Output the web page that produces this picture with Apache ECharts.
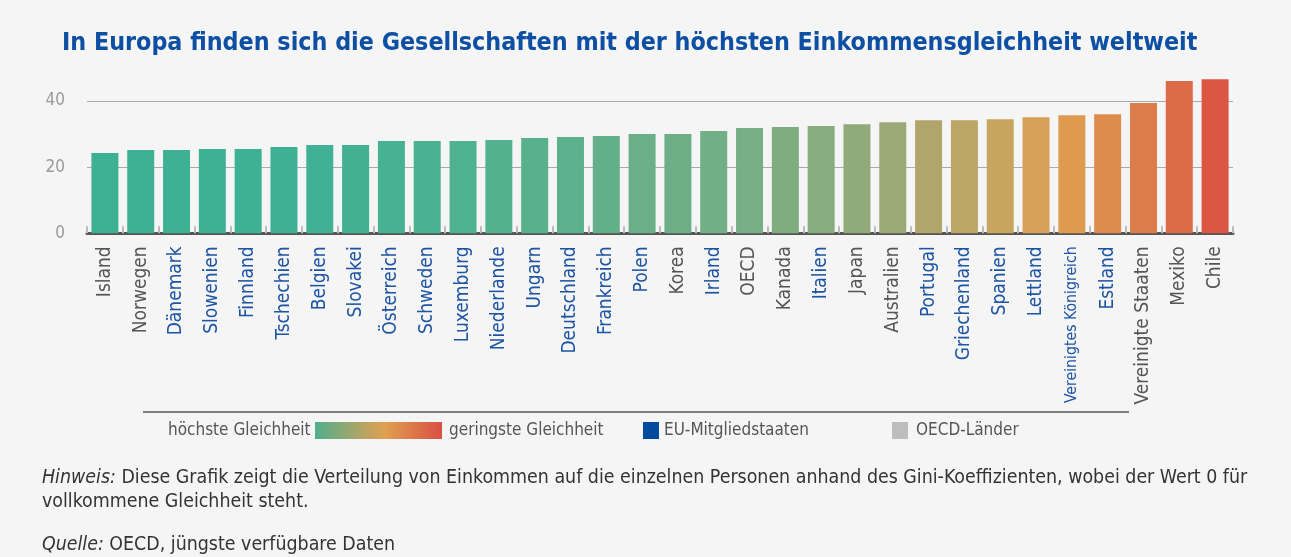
<!DOCTYPE html>
<html>
<head>
<meta charset="utf-8">
<script src="https://cdn.jsdelivr.net/npm/echarts@6/dist/echarts.min.js"></script>
<style>
  html, body { margin: 0; padding: 0; background: #f5f5f5; }
  #chart { width: 1291px; height: 557px; }
</style>
</head>
<body>
<div id="chart"></div>
<script>
  // Gini-Koeffizient je Land (OECD, jüngste Daten)
  const countries = ['Island', 'Norwegen', 'Dänemark', 'Slowenien', 'Finnland', 'Tschechien', 'Belgien', 'Slovakei',
    'Österreich', 'Schweden', 'Luxemburg', 'Niederlande', 'Ungarn', 'Deutschland', 'Frankreich', 'Polen', 'Korea',
    'Irland', 'OECD', 'Kanada', 'Italien', 'Japan', 'Australien', 'Portugal', 'Griechenland', 'Spanien', 'Lettland',
    'Vereinigtes Königreich', 'Estland', 'Vereinigte Staaten', 'Mexiko', 'Chile']
  const gini = [24.3, 25.2, 25.2, 25.5, 25.5, 26.1, 26.7, 26.7,
    27.9, 27.9, 27.9, 28.2, 28.8, 29.1, 29.4, 30.0, 30.0,
    30.9, 31.8, 32.1, 32.4, 33.0, 33.6, 34.2, 34.2, 34.5, 35.1,
    35.7, 36.0, 39.4, 46.0, 46.6]
  const euMembers = ['Dänemark', 'Slowenien', 'Finnland', 'Tschechien', 'Belgien', 'Slovakei', 'Österreich', 'Schweden',
    'Luxemburg', 'Niederlande', 'Ungarn', 'Deutschland', 'Frankreich', 'Polen', 'Irland', 'Italien', 'Portugal',
    'Griechenland', 'Spanien', 'Lettland', 'Vereinigtes Königreich', 'Estland']
  const yTicks = [0, 20, 40]

  // Farbverlauf der Balken (höchste -> geringste Gleichheit)
  const barColors = ['#3eb094', '#3eb094', '#3eb094', '#3eb094', '#3eb094', '#3fb094', '#41b195', '#43b094',
    '#47b193', '#4ab293', '#4eb291', '#53b190', '#58b08d', '#5db08c', '#62af8a', '#6aaf87', '#6eae86',
    '#72ae86', '#78ae84', '#7fad80', '#88ac7d', '#90aa79', '#9aa975', '#b0a66c', '#bba567', '#c7a460', '#d6a157',
    '#df9a51', '#de8c4e', '#dc7c4b', '#dc6b48', '#db5744']

  const FONT = '"DejaVu Sans Condensed", "DejaVu Sans", sans-serif'
  const BLUE = '#1d54a3'
  const GREY = '#555555'

  const chart = echarts.init(document.getElementById('chart'))

  chart.setOption({
    backgroundColor: '#f5f5f5',
    animation: false,
    grid: {
      left: 87,
      right: 58,
      top: 74.5,
      bottom: 323.7,
      containLabel: false
    },
    xAxis: {
      type: 'category',
      data: countries,
      axisLine: { lineStyle: { color: '#555', width: 3 } },
      axisTick: {
        show: true,
        inside: true,
        length: 7,
        lineStyle: { color: '#bbb', width: 2 }
      },
      axisLabel: {
        interval: 0,
        rotate: 90,
        margin: 13,
        formatter: function(v) {
          const eu = euMembers.indexOf(v) >= 0
          if (v === 'Vereinigtes Königreich') return '{small|' + v + '}'
          return eu ? '{eu|' + v + '}' : '{oecd|' + v + '}'
        },
        rich: {
          eu: { color: BLUE, fontSize: 19, fontFamily: FONT },
          small: { color: BLUE, fontSize: 15.7, fontFamily: FONT },
          oecd: { color: GREY, fontSize: 19, fontFamily: FONT }
        }
      }
    },
    yAxis: {
      type: 'value',
      min: yTicks[0],
      max: 48,
      interval: yTicks[1] - yTicks[0],
      axisLine: { show: false },
      axisTick: { show: false },
      axisLabel: {
        showMaxLabel: false,
        margin: 22,
        color: '#999',
        fontSize: 17,
        fontFamily: FONT,
        formatter: v => (yTicks.indexOf(v) >= 0 ? String(v) : '')
      },
      splitLine: {
        showMaxLine: false,
        showMinLine: false,
        lineStyle: { color: '#aaa', width: 1.2 }
      }
    },
    series: [{
      type: 'bar',
      barWidth: 27,
      data: countries.map((c, i) => ({ value: gini[i], itemStyle: { color: barColors[i] } }))
    }],
    graphic: [
      // Titel
      {
        type: 'text',
        style: {
          x: 62, y: 44,
          text: 'In Europa finden sich die Gesellschaften mit der höchsten Einkommensgleichheit weltweit',
          font: 'bold 24.8px ' + FONT,
          fill: '#0d4fa2',
          verticalAlign: 'middle'
        }
      },
      // Legende
      {
        type: 'line',
        shape: { x1: 143, y1: 412, x2: 1129, y2: 412 },
        style: { stroke: '#555', lineWidth: 1.5 }
      },
      {
        type: 'text',
        style: { x: 168, y: 431, text: 'höchste Gleichheit', font: '17px ' + FONT, fill: GREY, verticalAlign: 'middle' }
      },
      {
        type: 'rect',
        shape: { x: 315, y: 422, width: 127, height: 17 },
        style: {
          fill: new echarts.graphic.LinearGradient(0, 0, 1, 0, [
            { offset: 0, color: '#52ae8c' },
            { offset: 0.55, color: '#e0a050' },
            { offset: 1, color: '#d85044' }
          ])
        }
      },
      {
        type: 'text',
        style: { x: 449, y: 431, text: 'geringste Gleichheit', font: '17px ' + FONT, fill: GREY, verticalAlign: 'middle' }
      },
      {
        type: 'rect',
        shape: { x: 643, y: 422, width: 16, height: 17 },
        style: { fill: '#004b9e' }
      },
      {
        type: 'text',
        style: { x: 664, y: 431, text: 'EU-Mitgliedstaaten', font: '17px ' + FONT, fill: GREY, verticalAlign: 'middle' }
      },
      {
        type: 'rect',
        shape: { x: 892, y: 422, width: 16, height: 17 },
        style: { fill: '#bdbdbd' }
      },
      {
        type: 'text',
        style: { x: 916, y: 431, text: 'OECD-Länder', font: '17px ' + FONT, fill: GREY, verticalAlign: 'middle' }
      },
      // Hinweis und Quelle
      {
        type: 'text',
        style: {
          x: 42, y: 478,
          text: '{i|Hinweis:} Diese Grafik zeigt die Verteilung von Einkommen auf die einzelnen Personen anhand des Gini-Koeffizienten, wobei der Wert 0 für',
          font: '19.4px ' + FONT,
          fill: '#333',
          verticalAlign: 'middle',
          rich: { i: { fontStyle: 'italic', fontSize: 19.4, fontFamily: FONT, fill: '#333' } }
        }
      },
      {
        type: 'text',
        style: { x: 42, y: 502, text: 'vollkommene Gleichheit steht.', font: '19.4px ' + FONT, fill: '#333', verticalAlign: 'middle' }
      },
      {
        type: 'text',
        style: {
          x: 42, y: 545,
          text: '{i|Quelle:} OECD, jüngste verfügbare Daten',
          font: '19.4px ' + FONT,
          fill: '#333',
          verticalAlign: 'middle',
          rich: { i: { fontStyle: 'italic', fontSize: 19.4, fontFamily: FONT, fill: '#333' } }
        }
      }
    ]
  })
</script>
</body>
</html>
